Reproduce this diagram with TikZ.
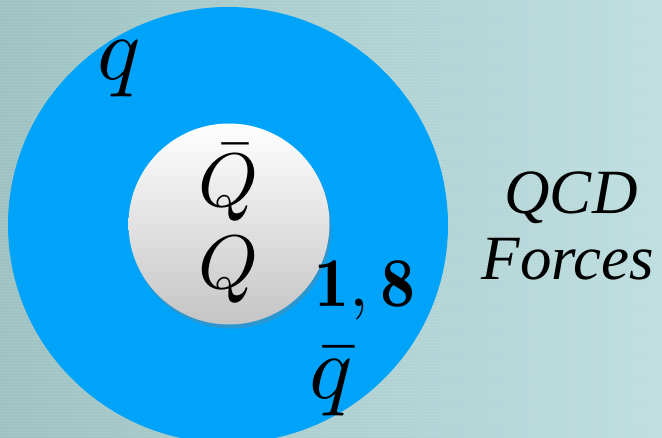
\documentclass[tikz,border=0pt]{standalone}
\usepackage{amsmath,amssymb}
\usepackage{fontspec}
\newfontfamily\slidefont{Liberation Serif}
\usetikzlibrary{shadows, positioning, shapes.geometric}

\definecolor{bgleft}{RGB}{158,194,194}
\definecolor{bgright}{RGB}{190,222,224}
\definecolor{cloudblue}{RGB}{0,163,250}

\begin{document}
\begin{tikzpicture}[x=1pt,y=-1pt,
    bigmath/.style={inner sep=0pt, anchor=base, scale=#1/10},
    label/.style={inner sep=0pt, anchor=base, font=\slidefont\itshape\fontsize{63}{63}\selectfont}]

        % Background
        \shade[left color=bgleft, right color=bgright] (0,0) rectangle (662,438);
        \useasboundingbox (0,0) rectangle (662,438);
        \foreach \yy in {1,4,...,436}
            \draw[white, opacity=0.07, line width=1pt] (0,\yy) -- (662,\yy);

        % Light-quark cloud
        \begin{scope}
            \clip (0,0) rectangle (662,438);
            \node[ellipse, fill=cloudblue, minimum width=440pt, minimum height=436pt,
                  inner sep=0pt] (cloud) at (228,225) {};
        \end{scope}

        % Heavy quark pair
        \node[circle, minimum size=201pt, inner sep=0pt,
              top color=white, bottom color=black!23,
              drop shadow={shadow xshift=2pt, shadow yshift=-4pt, opacity=0.35}]
              (core) at (229,224) {};

        \node[bigmath=76] (Qbar) at (229,207) {$\bar{Q}$};
        \node[bigmath=76] (Q) at (229,289) {$Q$};

        % Light quarks
        \node[bigmath=90] (q) at (119,80) {$q$};
        \node[bigmath=90] (qbar) at (331,399) {$\bar{q}$};

        % Colour channels
        \node[bigmath=70, anchor=base west] (chan) at (313,307) {$\mathbf{1},\mathbf{8}$};

        % Title
        \node[label] (qcd) at (571,214) {QCD};
        \node[label] (forces) at (568,280) {Forces};

    \end{tikzpicture}
\end{document}
